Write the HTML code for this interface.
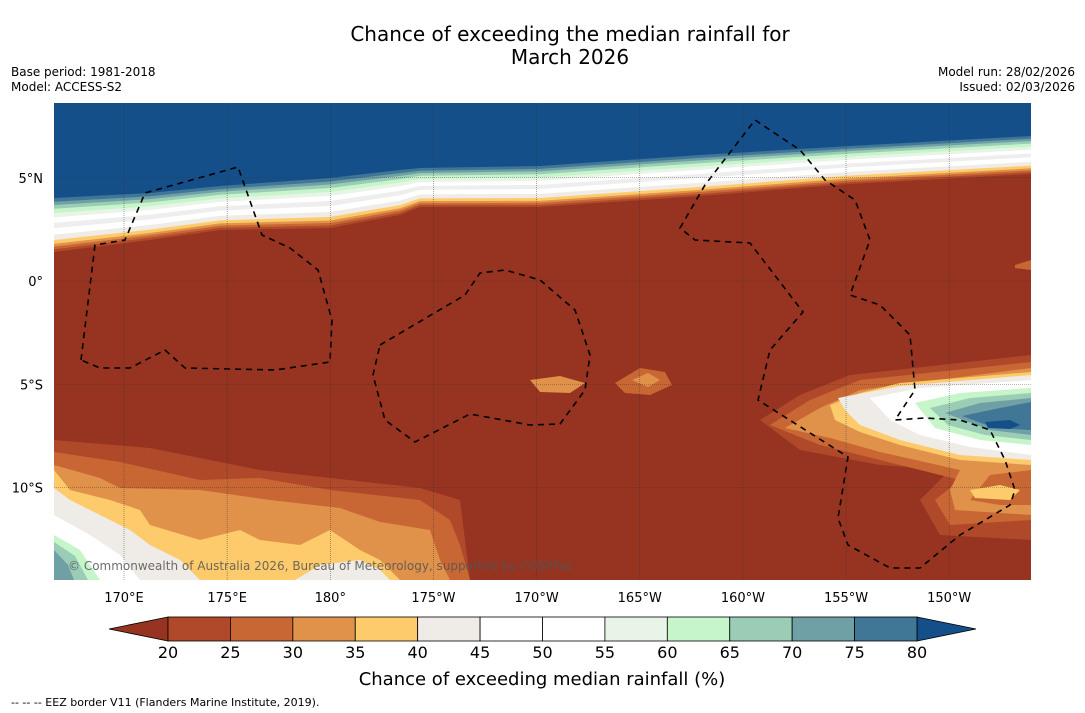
<!DOCTYPE html>
<html><head><meta charset="utf-8">
<style>
body{margin:0;background:#fff;width:1085px;height:713px;overflow:hidden;font-family:"DejaVu Sans","Liberation Sans",sans-serif;}
svg{position:absolute;left:0;top:0}
</style></head>
<body>
<svg width="1085" height="713" font-family="DejaVu Sans, Liberation Sans, sans-serif">
<text x="570" y="41" font-size="20" text-anchor="middle">Chance of exceeding the median rainfall for</text>
<text x="570" y="64" font-size="20" text-anchor="middle">March 2026</text>
<text x="11" y="76" font-size="12">Base period: 1981-2018</text>
<text x="11" y="91" font-size="12">Model: ACCESS-S2</text>
<text x="1075" y="76" font-size="12" text-anchor="end">Model run: 28/02/2026</text>
<text x="1075" y="91" font-size="12" text-anchor="end">Issued: 02/03/2026</text>
<defs><clipPath id="mc"><rect x="54" y="103" width="977" height="477"/></clipPath></defs>
<g id="map" clip-path="url(#mc)"></g>
<g id="axes"></g>
<g id="cbar"></g>
<text x="542" y="685" font-size="18" text-anchor="middle">Chance of exceeding median rainfall (%)</text>
<text x="11" y="706" font-size="11">--  --  -- EEZ border V11 (Flanders Marine Institute, 2019).</text>
</svg>
<script>
const NS="http://www.w3.org/2000/svg";
const lonTicks=[170,175,180,-175,-170,-165,-160,-155,-150];
const lonLabels=["170°E","175°E","180°","175°W","170°W","165°W","160°W","155°W","150°W"];
const latTicks=[5,0,-5,-10];
const latLabels=["5°N","0°","5°S","10°S"];
const cbTicks=[20,25,30,35,40,45,50,55,60,65,70,75,80];
const cbColors=["#b0492a","#c96734","#e0914a","#fdcb6b","#efebe6","#ffffff","#ffffff","#e8f4e8","#c6f5c9","#9accb6","#6ea0a5","#407696"];
const lowColor="#963321", highColor="#154f8a";
function X(lon){let l=lon<0?lon+360:lon;return 124+(l-170)*20.63;}
function Y(lat){return 281-lat*20.65;}
function el(t,a,p){const e=document.createElementNS(NS,t);for(const k in a)e.setAttribute(k,a[k]);(p||document.querySelector('svg')).appendChild(e);return e;}
const map=document.getElementById('map');
let r=el('rect',{x:54,y:103,width:977,height:477,fill:lowColor},map);

const brownEdge=[[54,252],[150,240],[220,230],[330,228],[400,215],[420,207],[540,207],[700,196],[850,184],[1031,174]];
const blueEdge=[[54,198],[150,193],[220,186],[330,178],[400,170],[420,168],[540,166],[700,155],[850,146],[1031,136]];
const bandCols=["#b0492a","#c96734","#e0914a","#fdcb6b","#efebe6","#ffffff","#eeeeee","#ffffff","#e8f4e8","#c6f5c9","#9accb6","#6ea0a5","#407696",highColor];
const fr=[0,0.05,0.1,0.15,0.22,0.32,0.44,0.54,0.64,0.72,0.8,0.87,0.93,1.0];
for(let i=0;i<bandCols.length;i++){
 let pts=brownEdge.map((p,j)=>[p[0],p[1]+(blueEdge[j][1]-p[1])*fr[i]]);
 let d="M54,103 "+pts.map(p=>"L"+p[0]+","+p[1]).join(" ")+" L1031,103 Z";
 let p=el('path',{d:d,fill:bandCols[i]},map);
 
}
const sw=[
 ["#b0492a","M54,440 L150,448 L260,470 L330,478 L420,488 L460,500 L470,580 L54,580Z"],
 ["#c96734","M54,452 L120,462 L200,480 L260,478 L330,490 L420,500 L450,520 L460,545 L470,580 L54,580Z"],
 ["#e0914a","M54,465 L100,478 L120,488 L200,490 L270,500 L340,508 L380,522 L430,530 L440,560 L450,580 L54,580Z"],
 ["#fdcb6b","M54,470 L70,490 L110,500 L140,510 L150,525 L200,540 L240,530 L260,540 L300,545 L330,530 L360,550 L380,560 L400,580 L54,580Z"],
 ["#efebe6","M54,488 L70,500 L100,515 L130,530 L150,545 L180,560 L200,580 L54,580Z"],
 ["#ffffff","M54,515 L90,535 L120,555 L140,580 L54,580Z"],
 ["#c6f5c9","M54,535 L80,550 L100,580 L54,580Z"],
 ["#9accb6","M54,542 L75,556 L88,580 L54,580Z"],
 ["#6ea0a5","M54,550 L68,565 L74,580 L54,580Z"],
 ["#efebe6","M295,580 L320,565 L360,560 L380,570 L390,580Z"]
];
sw.forEach(s=>{let p=el('path',{d:s[1],fill:s[0]},map);});
const ef=[
 ["#b0492a","M760,420 L800,395 L850,375 L1031,355 L1031,540 L940,535 L920,500 L950,470 L880,465 L800,450 Z"],
 ["#c96734","M770,425 L810,400 L860,380 L1031,362 L1031,520 L950,525 L935,500 L960,480 L900,465 L820,445 Z"],
 ["#e0914a","M785,428 L820,408 L860,390 L1031,368 L1031,470 L990,475 L970,500 L1000,505 L1031,505 L1031,515 L955,510 L950,490 L960,470 L880,452 L830,438 Z"],
 ["#fdcb6b","M830,405 L860,393 L900,383 L1031,372 L1031,465 L960,460 L900,445 L860,432 L835,420 Z"],
 ["#efebe6","M838,398 L900,386 L1031,375 L1031,460 L960,455 L900,440 L860,425 L845,410 Z"],
 ["#ffffff","M870,398 L920,388 L1031,380 L1031,455 L970,447 L920,435 L890,420 Z"],
 ["#c6f5c9","M915,403 L960,393 L1031,388 L1031,445 L980,440 L935,428 Z"],
 ["#9accb6","M930,408 L970,398 L1031,393 L1031,440 L985,435 L948,425 Z"],
 ["#6ea0a5","M945,413 L980,403 L1031,398 L1031,435 L990,430 Z"],
 ["#407696","M962,416 L1000,408 L1031,402 L1031,430 L995,428 Z"],
 ["#154f8a","M985,422 L1010,420 L1020,425 L1010,429 L988,428 Z"],
 ["#fdcb6b","M970,490 L1000,485 L1020,490 L1010,500 L975,498 Z"],
 ["#e0914a","M530,380 L560,376 L585,383 L570,393 L540,392 Z"],
 ["#c96734","M615,383 L640,368 L665,372 L672,385 L650,395 L625,393 Z"],
 ["#e0914a","M632,380 L648,373 L660,380 L648,387 Z"],
 ["#c96734","M1015,265 L1031,260 L1031,270 L1015,268 Z"]
];
ef.forEach(s=>{let p=el('path',{d:s[1],fill:s[0]},map);});
const eez=[
 "M81,360 L95,245 L125,240 L145,193 L238,167 L262,235 L290,248 L318,270 L332,320 L330,362 L275,370 L185,368 L165,350 L130,368 L100,368 Z",
 "M380,345 L465,295 L480,273 L505,270 L540,280 L575,310 L590,355 L585,390 L560,424 L530,425 L470,414 L415,442 L385,420 L373,375 Z",
 "M680,228 L705,185 L755,120 L800,150 L825,180 L855,200 L870,240 L850,295 L880,305 L910,335 L915,390 L895,420 L925,418 L960,420 L990,430 L1005,460 L1015,490 L1010,505 L960,535 L920,568 L890,568 L848,545 L838,518 L848,457 L758,400 L770,350 L803,312 L750,243 L695,240 Z"
];
eez.forEach(d=>{let p=el('path',{d:d,fill:"none",stroke:"#000","stroke-width":1.6,"stroke-dasharray":"6,5"},map);});
const ax=document.getElementById('axes');
lonTicks.forEach((v,i)=>{const x=X(v);
 let g=el('line',{x1:x,x2:x,y1:103,y2:580,stroke:"#333","stroke-width":0.6,"stroke-dasharray":"1,1",opacity:0.7},ax);
 let t=el('text',{x:x,y:602,"font-size":13,"text-anchor":"middle"},ax);t.textContent=lonLabels[i];});
latTicks.forEach((v,i)=>{const y=Y(v);
 let g=el('line',{x1:54,x2:1031,y1:y,y2:y,stroke:"#333","stroke-width":0.6,"stroke-dasharray":"1,1",opacity:0.7},ax);
 let t=el('text',{x:43,y:y+5,"font-size":13,"text-anchor":"end"},ax);t.textContent=latLabels[i];});
let cp=el('text',{x:68,y:570,"font-size":12,fill:"#555",opacity:0.85},ax);cp.textContent="© Commonwealth of Australia 2026, Bureau of Meteorology, supported by COSPPac";

const cb=document.getElementById('cbar');
const cx0=168,cx1=917,cy0=617,cy1=641,sw2=(cx1-cx0)/(cbTicks.length-1);
let lt=el('path',{d:`M${cx0},${cy0} L109,629 L${cx0},${cy1}Z`,fill:lowColor,stroke:"#000","stroke-width":0.8},cb);
let rt=el('path',{d:`M${cx1},${cy0} L976,629 L${cx1},${cy1}Z`,fill:highColor,stroke:"#000","stroke-width":0.8},cb);
cbColors.forEach((c,i)=>{let s=el('rect',{x:cx0+i*sw2,y:cy0,width:sw2,height:cy1-cy0,fill:c,stroke:"#000","stroke-width":0.8},cb);});
cbTicks.forEach((v,i)=>{let t=el('text',{x:cx0+i*sw2,y:658,"font-size":16,"text-anchor":"middle"},cb);t.textContent=v;});
</script>
</body></html>
